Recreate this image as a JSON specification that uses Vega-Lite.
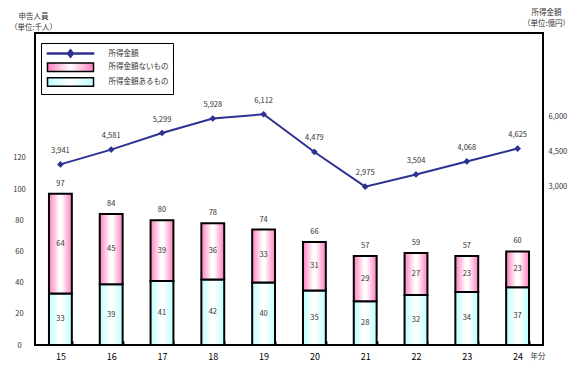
{
  "$schema": "https://vega.github.io/schema/vega-lite/v6.json",
  "width": 508,
  "height": 312,
  "autosize": "none",
  "padding": {"left": 35, "top": 33, "right": 37, "bottom": 27},
  "background": "white",
  "config": {
    "font": "Noto Sans CJK JP",
    "view": {"stroke": "#000", "strokeWidth": 2},
    "axis": {"grid": false, "labelFont": "Noto Sans CJK JP", "titleFont": "Noto Sans CJK JP"},
    "text": {"font": "Noto Sans CJK JP"}
  },
  "datasets": {
    "main": [
      {"year": "15", "aru": 33, "nai": 64, "total": 97, "amount": 3941},
      {"year": "16", "aru": 39, "nai": 45, "total": 84, "amount": 4581},
      {"year": "17", "aru": 41, "nai": 39, "total": 80, "amount": 5299},
      {"year": "18", "aru": 42, "nai": 36, "total": 78, "amount": 5928},
      {"year": "19", "aru": 40, "nai": 33, "total": 74, "amount": 6112},
      {"year": "20", "aru": 35, "nai": 31, "total": 66, "amount": 4479},
      {"year": "21", "aru": 28, "nai": 29, "total": 57, "amount": 2975},
      {"year": "22", "aru": 32, "nai": 27, "total": 59, "amount": 3504},
      {"year": "23", "aru": 34, "nai": 23, "total": 57, "amount": 4068},
      {"year": "24", "aru": 37, "nai": 23, "total": 60, "amount": 4625}
    ],
    "leg": [
      {"s": "所得金額"},
      {"s": "所得金額ないもの"},
      {"s": "所得金額あるもの"}
    ]
  },
  "encoding": {
    "x": {
      "field": "year", "type": "nominal",
      "scale": {"paddingInner": 0.55, "paddingOuter": 0.275},
      "axis": {
        "title": "年分", "titleX": 495, "titleY": 11, "titleAlign": "left", "titleAnchor": "start",
        "titleBaseline": "middle", "titleFontSize": 7.5, "titleFontWeight": "normal", "titleColor": "#333",
        "labelAngle": 0, "labelFontSize": 9, "labelColor": "#000", "labelPadding": 11,
        "tickBand": "extent", "tickSize": -4, "tickWidth": 2, "tickColor": "#000", "domain": false
      }
    }
  },
  "layer": [
    {
      "data": {"name": "main"},
      "layer": [
        {
          "mark": {"type": "bar", "stroke": "#000", "strokeWidth": 2,
            "fill": {"gradient": "linear", "x1": 0, "y1": 0, "x2": 1, "y2": 0,
              "stops": [{"offset": 0, "color": "#BDFFFF"}, {"offset": 0.45, "color": "#FFFFFF"}, {"offset": 0.55, "color": "#FFFFFF"}, {"offset": 1, "color": "#BDFFFF"}]}},
          "encoding": {
            "y": {"field": "aru", "type": "quantitative", "scale": {"domain": [0, 200], "nice": false},
              "axis": {
                "orient": "left", "values": [0, 20, 40, 60, 80, 100, 120], "domain": false, "ticks": false,
                "labelFontSize": 7.5, "labelColor": "#333", "labelAlign": "center", "labelPadding": 16,
                "title": ["申告人員", "（単位:千人）"], "titleAngle": 0, "titleAlign": "center", "titleAnchor": null,
                "titleBaseline": "top", "titleX": -2, "titleY": -21, "titleFontSize": 7.5, "titleFontWeight": "normal",
                "titleColor": "#333", "titleLineHeight": 11
              }
            }
          }
        },
        {
          "mark": {"type": "bar", "stroke": "#000", "strokeWidth": 2,
            "fill": {"gradient": "linear", "x1": 0, "y1": 0, "x2": 1, "y2": 0,
              "stops": [{"offset": 0, "color": "#FF7FBF"}, {"offset": 0.45, "color": "#FFFFFF"}, {"offset": 0.55, "color": "#FFFFFF"}, {"offset": 1, "color": "#FF7FBF"}]}},
          "encoding": {
            "y": {"field": "total", "type": "quantitative"},
            "y2": {"field": "aru"}
          }
        },
        {
          "mark": {"type": "text", "fontSize": 7.5, "color": "#333", "baseline": "middle",
            "dy": {"expr": "datum.aru / 200 * height / 2"}},
          "encoding": {
            "y": {"field": "aru", "type": "quantitative"},
            "text": {"field": "aru", "type": "quantitative"}
          }
        },
        {
          "mark": {"type": "text", "fontSize": 7.5, "color": "#333", "baseline": "middle",
            "dy": {"expr": "datum.nai / 200 * height / 2"}},
          "encoding": {
            "y": {"field": "total", "type": "quantitative"},
            "text": {"field": "nai", "type": "quantitative"}
          }
        },
        {
          "mark": {"type": "text", "fontSize": 7.5, "color": "#333", "dy": -10, "baseline": "middle"},
          "encoding": {
            "y": {"field": "total", "type": "quantitative"},
            "text": {"field": "total", "type": "quantitative"}
          }
        }
      ]
    },
    {
      "data": {"name": "main"},
      "layer": [
        {
          "mark": {"type": "line", "color": "#2D3192", "strokeWidth": 2},
          "encoding": {
            "y": {"field": "amount", "type": "quantitative", "scale": {"domain": [-3880, 9630], "nice": false},
              "axis": {
                "orient": "right", "values": [3000, 4500, 6000], "labelExpr": "format(datum.value, ',')", "domain": false, "ticks": false,
                "labelFontSize": 7.5, "labelColor": "#333", "labelAlign": "left", "labelPadding": 5,
                "title": ["所得金額", "（単位:億円）"], "titleAngle": 0, "titleAlign": "center", "titleAnchor": null,
                "titleBaseline": "top", "titleX": 3, "titleY": -25, "titleFontSize": 7.5, "titleFontWeight": "normal",
                "titleColor": "#333", "titleLineHeight": 11
              }
            }
          }
        },
        {
          "mark": {"type": "point", "shape": "diamond", "filled": true, "size": 45, "color": "#2D3192", "opacity": 1},
          "encoding": {"y": {"field": "amount", "type": "quantitative"}}
        },
        {
          "mark": {"type": "text", "fontSize": 7.5, "color": "#333", "dy": -13.5, "baseline": "middle"},
          "encoding": {
            "y": {"field": "amount", "type": "quantitative"},
            "text": {"field": "amount", "type": "quantitative", "format": ","}
          }
        }
      ]
    },
    {
      "data": {"name": "leg"},
      "transform": [{"filter": "false"}],
      "mark": {"type": "point", "filled": true, "strokeWidth": 1.5, "opacity": 1},
      "encoding": {
        "fill": {
          "field": "s", "type": "nominal",
          "scale": {
            "domain": ["所得金額", "所得金額ないもの", "所得金額あるもの"],
            "range": [
              "#2D3192",
              {"expr": "{gradient:'linear',x1:0,y1:0,x2:1,y2:0,stops:[{offset:0,color:'#FF7FBF'},{offset:0.5,color:'#FFFFFF'},{offset:1,color:'#FF7FBF'}]}"},
              {"expr": "{gradient:'linear',x1:0,y1:0,x2:1,y2:0,stops:[{offset:0,color:'#BDFFFF'},{offset:0.5,color:'#FFFFFF'},{offset:1,color:'#BDFFFF'}]}"}
            ]
          },
          "legend": {
            "title": null, "orient": "none", "legendX": 6, "legendY": 10,
            "padding": 4.5, "strokeColor": "#000", "fillColor": "#FFFFFF",
            "symbolSize": 100, "symbolOffset": 19, "labelOffset": 32, "rowPadding": -1.2,
            "labelFontSize": 7.5, "labelColor": "#333", "labelFont": "Noto Sans CJK JP",
            "labelExpr": "datum.label + '\u3000\u3000\u3000\u3000 '", "symbolStrokeWidth": 1.5
          }
        },
        "shape": {
          "field": "s", "type": "nominal",
          "scale": {
            "domain": ["所得金額", "所得金額ないもの", "所得金額あるもの"],
            "range": [
              "M-4.6,-0.1H4.6V0.1H-4.6Z M0,-0.75L0.6,0L0,0.75L-0.6,0Z",
              "M-4.6,-0.85H4.6V0.85H-4.6Z",
              "M-4.6,-0.85H4.6V0.85H-4.6Z"
            ]
          }
        },
        "stroke": {
          "field": "s", "type": "nominal",
          "scale": {
            "domain": ["所得金額", "所得金額ないもの", "所得金額あるもの"],
            "range": ["#2D3192", "#000000", "#000000"]
          }
        }
      }
    }
  ],
  "resolve": {"scale": {"y": "independent"}}
}
